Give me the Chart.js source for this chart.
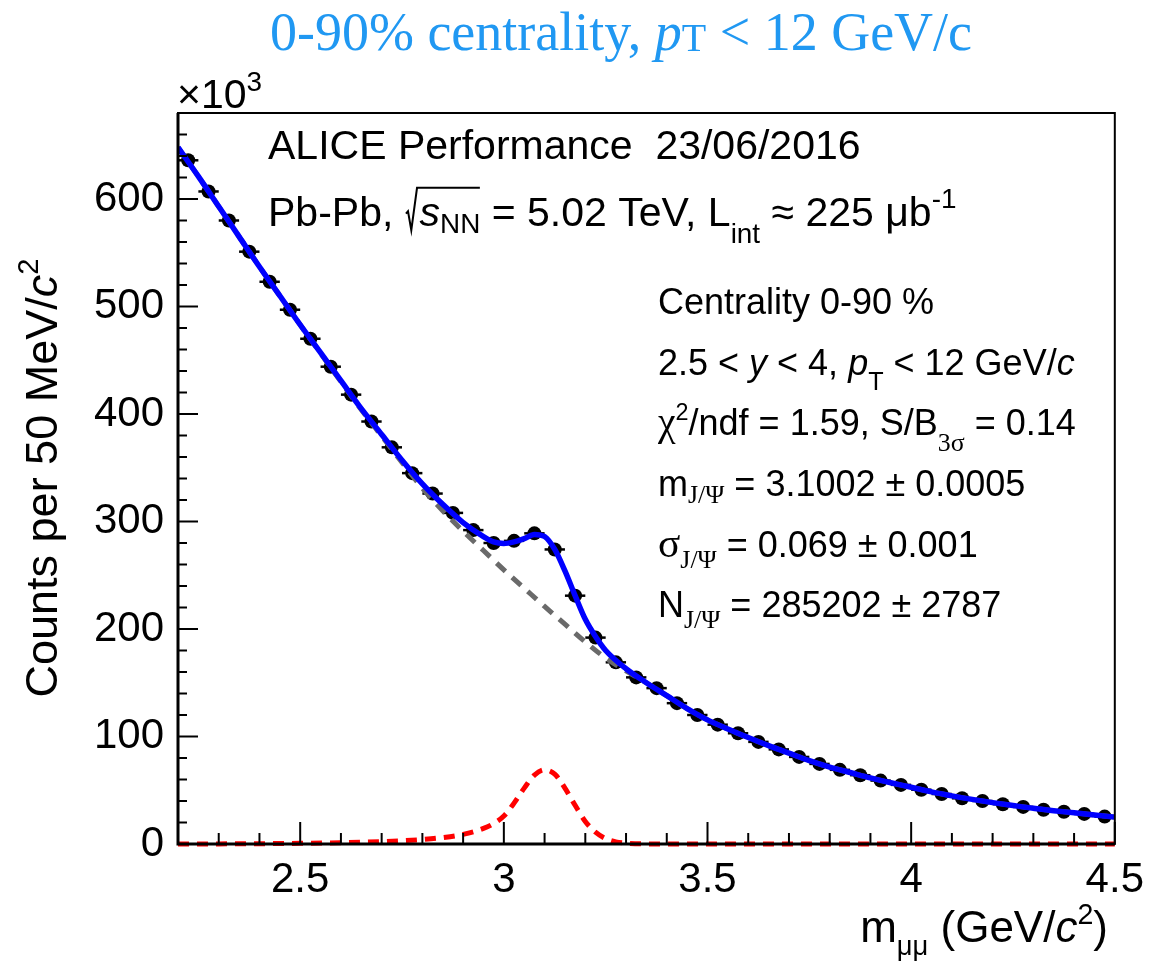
<!DOCTYPE html>
<html>
<head>
<meta charset="utf-8">
<script src="https://cdn.jsdelivr.net/npm/chart.js@4/dist/chart.umd.min.js"></script>
<style>
  html, body { margin: 0; padding: 0; background: #fff; }
  #wrap { width: 1155px; height: 961px; }
</style>
</head>
<body>
<div id="wrap"><canvas id="c" width="1155" height="961"></canvas></div>
<script>
// ---------------- data (counts in units of 10^3) ----------------
const binCenters = [2.225, 2.275, 2.325, 2.375, 2.425, 2.475, 2.525, 2.575, 2.625, 2.675,
  2.725, 2.775, 2.825, 2.875, 2.925, 2.975, 3.025, 3.075, 3.125, 3.175,
  3.225, 3.275, 3.325, 3.375, 3.425, 3.475, 3.525, 3.575, 3.625, 3.675,
  3.725, 3.775, 3.825, 3.875, 3.925, 3.975, 4.025, 4.075, 4.125, 4.175,
  4.225, 4.275, 4.325, 4.375, 4.425, 4.475];
const counts = [636, 607, 580, 551, 523, 497, 470, 444, 418, 393,
  369, 345, 326, 308, 292, 280, 282, 289, 274, 231,
  192, 169, 155, 145, 131, 120, 111, 103, 95, 88,
  81, 74.5, 69, 64, 59, 55, 50.5, 46.5, 42.5, 40,
  37, 34.5, 31.8, 30, 28, 25.5];
const binHalfWidth = 0.025;

const fitX = [2.20, 2.25, 2.30, 2.35, 2.40, 2.45, 2.50, 2.55, 2.60, 2.65,
  2.70, 2.75, 2.80, 2.85, 2.90, 2.95, 2.975, 3.00, 3.025, 3.05,
  3.075, 3.10, 3.125, 3.15, 3.175, 3.20, 3.225, 3.25, 3.30, 3.35,
  3.40, 3.45, 3.50, 3.55, 3.60, 3.65, 3.70, 3.75, 3.80, 3.85,
  3.90, 3.95, 4.00, 4.05, 4.10, 4.15, 4.20, 4.25, 4.30, 4.35,
  4.40, 4.45, 4.50];
const fitTotal = [648, 621, 593, 565, 537, 510, 483, 457, 431, 405,
  381, 357, 335, 316, 299, 286, 281, 279.5, 281, 284,
  288, 286, 274, 254, 231, 209, 193, 180, 163, 150,
  138, 126, 115.5, 107, 99, 91.5, 84.5, 77.5, 71.5, 66.5,
  61.5, 57, 52.8, 48.5, 44.8, 41.5, 38.5, 35.8, 33.2, 31,
  29, 27, 25];

const bkgX = [2.20, 2.25, 2.30, 2.35, 2.40, 2.45, 2.50, 2.55, 2.60, 2.65,
  2.70, 2.75, 2.80, 2.85, 2.90, 2.95, 3.00, 3.05, 3.10, 3.15,
  3.20, 3.25, 3.30, 3.35, 3.40, 3.45, 3.50, 3.55, 3.60, 3.65,
  3.70, 3.75, 3.80, 3.85, 3.90, 3.95, 4.00, 4.05, 4.10, 4.15,
  4.20, 4.25, 4.30, 4.35, 4.40, 4.45, 4.50];
const bkgVals = [648, 621, 593, 565, 537, 510, 483, 456.5, 430, 404,
  379.5, 355, 331, 310, 291, 273, 255, 238, 221, 204.5,
  188, 173, 161, 149.8, 138, 126, 115.5, 107, 99, 91.5,
  84.5, 77.5, 71.5, 66.5, 61.5, 57, 52.8, 48.5, 44.8, 41.5,
  38.5, 35.8, 33.2, 31, 29, 27, 25];

const sigX = [2.20, 2.30, 2.40, 2.50, 2.60, 2.65, 2.70, 2.75, 2.80, 2.85,
  2.90, 2.95, 2.975, 3.00, 3.025, 3.05, 3.075, 3.10, 3.125, 3.15,
  3.175, 3.20, 3.225, 3.25, 3.275, 3.30, 3.35, 3.40, 3.60, 3.80,
  4.00, 4.20, 4.50];
const sigVals = [0, 0.1, 0.3, 0.6, 1.2, 1.6, 2.2, 3.0, 4.2, 6.0,
  9.0, 14.5, 19, 26, 38, 52, 64, 69, 65, 52,
  36, 21, 11, 5, 2, 0.8, 0.1, 0, 0, 0,
  0, 0, 0];

const xMajorTicks = [2.5, 3, 3.5, 4, 4.5];
const yMajorTicks = [0, 100, 200, 300, 400, 500, 600];

// ---------------- helpers ----------------
const SANS = '"Liberation Sans", Arial, Helvetica, sans-serif';
const SERIF = '"Liberation Serif", "Times New Roman", Times, serif';
const zip = (xs, ys) => xs.map((x, i) => ({x: x, y: ys[i]}));
const isMajor = (v, list) => list.some(m => Math.abs(m - v) < 1e-6);

function drawRich(ctx, x, y, parts, size, align, color) {
  ctx.fillStyle = color || '#000';
  ctx.textBaseline = 'alphabetic';
  ctx.textAlign = 'left';
  const items = parts.map(p => {
    const s = size * (p.s || 1);
    const fam = p.f === 'serif' ? SERIF : SANS;
    const font = (p.i ? 'italic ' : '') + s.toFixed(1) + 'px ' + fam;
    let w = 0;
    if (p.radical) { w = size * 0.36; }
    else { ctx.font = font; w = ctx.measureText(p.t).width; }
    return {p: p, font: font, w: w, dy: (p.dy || 0) * size};
  });
  const total = items.reduce((a, b) => a + b.w, 0);
  let cx = align === 'right' ? x - total : (align === 'center' ? x - total / 2 : x);
  items.forEach((it, k) => {
    if (it.p.radical) {
      let span = 0;
      for (let j = 1; j <= it.p.span; j++) span += items[k + j].w;
      ctx.save();
      ctx.strokeStyle = color || '#000';
      ctx.lineWidth = 2;
      ctx.beginPath();
      ctx.moveTo(cx + size * 0.03, y - size * 0.30);
      ctx.lineTo(cx + size * 0.08, y - size * 0.36);
      ctx.lineTo(cx + size * 0.16, y + size * 0.10);
      ctx.lineTo(cx + size * 0.30, y - size * 0.93);
      ctx.lineTo(cx + size * 0.30 + span + size * 0.05, y - size * 0.93);
      ctx.stroke();
      ctx.restore();
    } else {
      ctx.font = it.font;
      ctx.fillText(it.p.t, cx, y + it.dy);
    }
    cx += it.w;
  });
  return total;
}

// ---------------- plugins ----------------
const whiteBg = {
  id: 'whiteBg',
  beforeDraw(chart) {
    const ctx = chart.ctx;
    ctx.save();
    ctx.fillStyle = '#fff';
    ctx.fillRect(0, 0, chart.width, chart.height);
    ctx.restore();
  }
};

const errorBars = {
  id: 'errorBars',
  beforeDatasetsDraw(chart) {
    const {ctx, scales: {x, y}} = chart;
    ctx.save();
    ctx.strokeStyle = '#000';
    ctx.lineWidth = 2.5;
    binCenters.forEach((c, i) => {
      const py = y.getPixelForValue(counts[i]);
      ctx.beginPath();
      ctx.moveTo(x.getPixelForValue(c - binHalfWidth), py);
      ctx.lineTo(x.getPixelForValue(c + binHalfWidth), py);
      ctx.stroke();
    });
    ctx.restore();
  }
};

const frameTicks = {
  id: 'frameTicks',
  afterDatasetsDraw(chart) {
    const {ctx, chartArea: a, scales: {x, y}} = chart;
    ctx.save();
    ctx.strokeStyle = '#000';
    ctx.lineWidth = 2;
    x.ticks.forEach(t => {
      const px = x.getPixelForValue(t.value);
      const len = isMajor(t.value, xMajorTicks) ? 22 : 11;
      ctx.beginPath(); ctx.moveTo(px, a.bottom); ctx.lineTo(px, a.bottom - len); ctx.stroke();
    });
    y.ticks.forEach(t => {
      const py = y.getPixelForValue(t.value);
      const len = isMajor(t.value, yMajorTicks) ? 20 : 9;
      ctx.beginPath(); ctx.moveTo(a.left, py); ctx.lineTo(a.left + len, py); ctx.stroke();
    });
    ctx.strokeRect(a.left, a.top, a.right - a.left, a.bottom - a.top);
    ctx.lineWidth = 3;
    ctx.beginPath();
    ctx.moveTo(a.left, a.top); ctx.lineTo(a.left, a.bottom); ctx.lineTo(a.right, a.bottom);
    ctx.stroke();
    ctx.restore();
  }
};

const texts = {
  id: 'texts',
  afterDraw(chart) {
    const ctx = chart.ctx;
    ctx.save();
    // title
    drawRich(ctx, 621, 50, [
      {t: '0-90% centrality, ', f: 'serif'},
      {t: 'p', f: 'serif', i: true},
      {t: 'T', f: 'serif', s: 0.74, dy: 0.02},
      {t: ' < 12 GeV/c', f: 'serif'}
    ], 54, 'center', 'rgb(32,152,242)');
    // exponent
    drawRich(ctx, 177, 108, [{t: '×10'}, {t: '3', s: 0.68, dy: -0.42}], 41, 'left');
    // ALICE lines
    drawRich(ctx, 268, 159, [{t: 'ALICE Performance  23/06/2016'}], 41, 'left');
    drawRich(ctx, 268, 226, [
      {t: 'Pb-Pb, '},
      {radical: true, span: 2},
      {t: 's', i: true},
      {t: 'NN', s: 0.68, dy: 0.16},
      {t: ' = 5.02 TeV, L'},
      {t: 'int', s: 0.68, dy: 0.42},
      {t: ' ≈ 225 μb'},
      {t: '-1', s: 0.68, dy: -0.45}
    ], 41, 'left');
    // fit results
    const bx = 658, fs = 36;
    drawRich(ctx, bx, 314, [{t: 'Centrality 0-90 %'}], fs, 'left');
    drawRich(ctx, bx, 375, [
      {t: '2.5 < '}, {t: 'y', i: true}, {t: ' < 4, '}, {t: 'p', i: true},
      {t: 'T', s: 0.7, dy: 0.42}, {t: ' < 12 GeV/'}, {t: 'c', i: true}
    ], fs, 'left');
    drawRich(ctx, bx, 435, [
      {t: 'χ', f: 'serif', s: 1.1}, {t: '2', s: 0.65, dy: -0.42}, {t: '/ndf = 1.59, S/B'},
      {t: '3σ', f: 'serif', s: 0.72, dy: 0.45}, {t: ' = 0.14'}
    ], fs, 'left');
    drawRich(ctx, bx, 496, [
      {t: 'm'}, {t: 'J/Ψ', f: 'serif', s: 0.72, dy: 0.2}, {t: ' = 3.1002 ± 0.0005'}
    ], fs, 'left');
    drawRich(ctx, bx, 557, [
      {t: 'σ', f: 'serif', s: 1.15}, {t: 'J/Ψ', f: 'serif', s: 0.72, dy: 0.3}, {t: ' = 0.069 ± 0.001'}
    ], fs, 'left');
    drawRich(ctx, bx, 617, [
      {t: 'N'}, {t: 'J/Ψ', f: 'serif', s: 0.72, dy: 0.3}, {t: ' = 285202 ± 2787'}
    ], fs, 'left');
    // x title
    drawRich(ctx, 1108, 942, [
      {t: 'm'}, {t: 'μμ', s: 0.62, dy: 0.3}, {t: ' (GeV/'}, {t: 'c', i: true},
      {t: '2', s: 0.65, dy: -0.42}, {t: ')'}
    ], 44, 'right');
    // y title
    ctx.save();
    ctx.translate(57, 478);
    ctx.rotate(-Math.PI / 2);
    drawRich(ctx, 0, 0, [
      {t: 'Counts per 50 MeV/'}, {t: 'c', i: true}, {t: '2', s: 0.65, dy: -0.42}
    ], 45, 'center');
    ctx.restore();
    ctx.restore();
  }
};

// ---------------- chart ----------------
new Chart(document.getElementById('c'), {
  type: 'scatter',
  data: {
    datasets: [
      {
        label: 'total fit', type: 'line', data: zip(fitX, fitTotal), order: 0,
        borderColor: '#0000ff', borderWidth: 5.5, pointRadius: 0, fill: false,
        cubicInterpolationMode: 'monotone'
      },
      {
        label: 'signal', type: 'line', data: zip(sigX, sigVals), order: 1,
        borderColor: '#ff0000', borderWidth: 5, borderDash: [11, 8], pointRadius: 0, fill: false,
        cubicInterpolationMode: 'monotone', clip: 4
      },
      {
        label: 'background', type: 'line', data: zip(bkgX, bkgVals), order: 2,
        borderColor: '#6a6a6a', borderWidth: 5, borderDash: [12, 9], pointRadius: 0, fill: false,
        cubicInterpolationMode: 'monotone'
      },
      {
        label: 'data', type: 'scatter', data: zip(binCenters, counts), order: 3,
        backgroundColor: '#000', borderColor: '#000', borderWidth: 0, pointRadius: 7,
        showLine: false
      }
    ]
  },
  options: {
    responsive: false,
    animation: false,
    devicePixelRatio: 1,
    layout: { padding: { left: 0, right: 38, top: 113, bottom: 0 } },
    plugins: { legend: { display: false }, tooltip: { enabled: false }, title: { display: false } },
    scales: {
      x: {
        type: 'linear', min: 2.2, max: 4.5,
        grid: { display: false, drawTicks: false, tickLength: 0 },
        border: { display: false },
        ticks: {
          stepSize: 0.1, autoSkip: false, maxRotation: 0, minRotation: 0, padding: 11,
          color: '#000', font: { family: SANS, size: 42 },
          callback: v => isMajor(v, xMajorTicks) ? String(Math.round(v * 10) / 10) : ''
        },
        afterFit: s => { s.height = 117; }
      },
      y: {
        type: 'linear', min: 0, max: 680,
        grid: { display: false, drawTicks: false, tickLength: 0 },
        border: { display: false },
        ticks: {
          stepSize: 20, autoSkip: false, padding: 14,
          color: '#000', font: { family: SANS, size: 42 },
          callback: v => isMajor(v, yMajorTicks) ? String(Math.round(v)) : ''
        },
        afterFit: s => { s.width = 178; }
      }
    }
  },
  plugins: [whiteBg, errorBars, frameTicks, texts]
});
</script>
</body>
</html>
